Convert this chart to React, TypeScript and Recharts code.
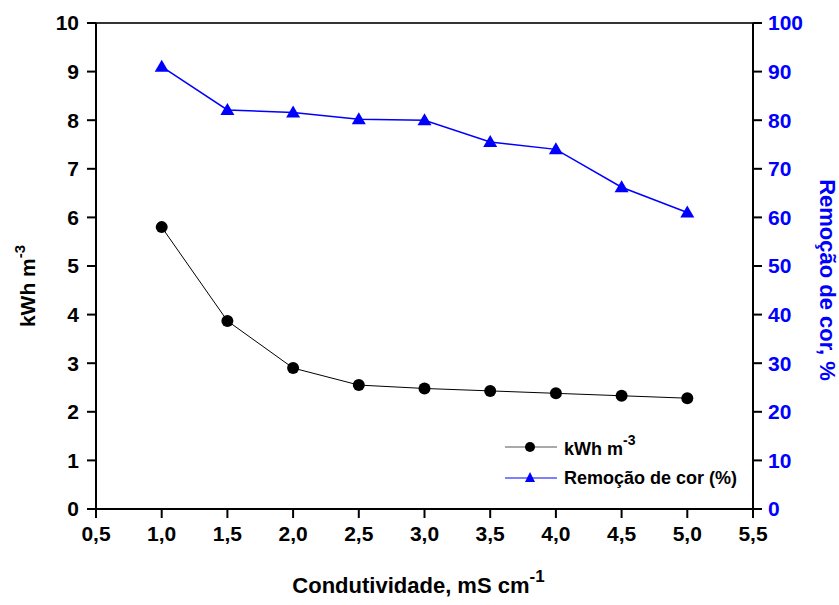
import {
  ComposedChart,
  Line,
  XAxis,
  YAxis,
  Label,
  ReferenceLine,
} from 'recharts'

// conductivity (mS cm-1)
const condutividade = [1.0, 1.5, 2.0, 2.5, 3.0, 3.5, 4.0, 4.5, 5.0]
// energy consumption (kWh m-3)
const consumo = [5.8, 3.87, 2.9, 2.55, 2.48, 2.43, 2.38, 2.33, 2.28]
// colour removal (%)
const remocao = [91, 82.1, 81.6, 80.2, 80, 75.5, 74, 66.2, 61]

const xTicks = [0.5, 1.0, 1.5, 2.0, 2.5, 3.0, 3.5, 4.0, 4.5, 5.0, 5.5]
const leftTicks = [0, 1, 2, 3, 4, 5, 6, 7, 8, 9, 10]
const rightTicks = [0, 10, 20, 30, 40, 50, 60, 70, 80, 90, 100]

const data = condutividade.map((c, i) => ({
  c,
  kwh: consumo[i],
  rem: remocao[i],
}))

const FONT = '"Liberation Sans", Arial, sans-serif'
const BLUE = '#0000ff'
const tickFont = { fontSize: 21, fontWeight: 'bold', fontFamily: FONT }

const Triangle = ({ cx, cy }: any) => {
  if (cx == null || cy == null) return null
  return (
    <polygon
      points={`${cx},${cy - 7} ${cx - 7},${cy + 5} ${cx + 7},${cy + 5}`}
      fill={BLUE}
    />
  )
}

const Circle = ({ cx, cy }: any) => {
  if (cx == null || cy == null) return null
  return <circle cx={cx} cy={cy} r={6} fill="#000" />
}

// legend box sitting inside the plot, bottom right
const SeriesLegend = () => (
  <svg
    width={270}
    height={64}
    style={{ position: 'absolute', left: 500, top: 430, fontFamily: FONT }}
  >
    <line x1={5} y1={17} x2={57} y2={17} stroke="#555" strokeWidth={1} />
    <circle cx={30} cy={17} r={5} fill="#000" />
    <text x={64} y={25} fontSize={18} fontWeight="bold" fill="#000">
      kWh m<tspan dy={-10} fontSize={14}>-3</tspan>
    </text>
    <line x1={5} y1={48} x2={57} y2={48} stroke={BLUE} strokeWidth={1} />
    <polygon points="30,42 25,52 35,52" fill={BLUE} />
    <text x={64} y={54} fontSize={18} fontWeight="bold" fill="#000">
      Remoção de cor (%)
    </text>
  </svg>
)

export default function App() {
  return (
    <div style={{ position: 'absolute', left: 0, top: 0, background: '#fff' }}>
      <ComposedChart
        width={839}
        height={605}
        data={data}
        margin={{ top: 23, right: 26, left: 36, bottom: 0 }}
        style={{ fontFamily: FONT }}
      >
        <XAxis
          dataKey="c"
          type="number"
          domain={[0.5, 5.5]}
          ticks={xTicks}
          tickFormatter={(v: number) => v.toFixed(1).replace('.', ',')}
          tick={{ ...tickFont, fill: '#000' }}
          tickSize={9}
          tickMargin={8}
          height={96}
          stroke="#000"
          axisLine={{ stroke: '#000', strokeWidth: 2 }}
          tickLine={{ stroke: '#000', strokeWidth: 2 }}
        >
          <Label
            content={({ viewBox }: any) => (
              <text
                x={viewBox.x + viewBox.width / 2 - 6}
                y={viewBox.y + 84}
                textAnchor="middle"
                fontSize={22}
                fontWeight="bold"
                fill="#000"
              >
                Condutividade, mS cm<tspan dy={-11} fontSize={17}>-1</tspan>
              </text>
            )}
          />
        </XAxis>
        <YAxis
          yAxisId="left"
          domain={[0, 10]}
          ticks={leftTicks}
          tick={{ ...tickFont, fill: '#000' }}
          tickSize={9}
          tickMargin={8}
          width={60}
          stroke="#000"
          axisLine={{ stroke: '#000', strokeWidth: 2 }}
          tickLine={{ stroke: '#000', strokeWidth: 2 }}
        >
          <Label
            content={() => {
              const x = 35
              const y = 286
              return (
                <text
                  x={x}
                  y={y}
                  transform={`rotate(-90 ${x} ${y})`}
                  textAnchor="middle"
                  fontSize={21}
                  fontWeight="bold"
                  fill="#000"
                >
                  kWh m<tspan dy={-10} fontSize={15}>-3</tspan>
                </text>
              )
            }}
          />
        </YAxis>
        <YAxis
          yAxisId="right"
          orientation="right"
          domain={[0, 100]}
          ticks={rightTicks}
          tick={{ ...tickFont, fill: BLUE }}
          tickSize={9}
          tickMargin={6}
          width={60}
          stroke="#000"
          axisLine={{ stroke: '#000', strokeWidth: 2 }}
          tickLine={{ stroke: '#000', strokeWidth: 2 }}
        >
          <Label
            content={() => {
              const x = 820
              const y = 280
              return (
                <text
                  x={x}
                  y={y}
                  transform={`rotate(90 ${x} ${y})`}
                  textAnchor="middle"
                  fontSize={22}
                  fontWeight="bold"
                  fill={BLUE}
                >
                  Remoção de cor, %
                </text>
              )
            }}
          />
        </YAxis>
        <ReferenceLine yAxisId="left" y={10} stroke="#333" strokeWidth={2} />
        <Line
          yAxisId="left"
          dataKey="kwh"
          name="kWh m-3"
          stroke="#000"
          strokeWidth={1}
          dot={<Circle />}
          isAnimationActive={false}
        />
        <Line
          yAxisId="right"
          dataKey="rem"
          name="Remoção de cor (%)"
          stroke={BLUE}
          strokeWidth={1.5}
          dot={<Triangle />}
          isAnimationActive={false}
        />
      </ComposedChart>
      <SeriesLegend />
    </div>
  )
}
